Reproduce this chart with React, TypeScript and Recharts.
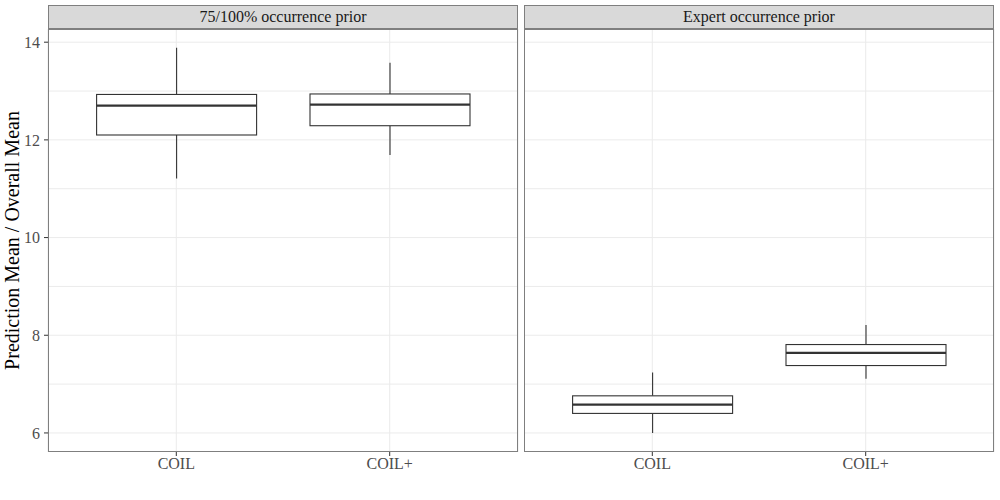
import React from 'react';
import { ComposedChart, Bar, XAxis, YAxis, CartesianGrid } from 'recharts';

const categories = ['COIL', 'COIL+'];
const facetTitles = ['75/100% occurrence prior', 'Expert occurrence prior'];
const yAxisTitle = 'Prediction Mean / Overall Mean';

const occMin = [11.21, 11.69];
const occQ1 = [12.1, 12.29];
const occMedian = [12.7, 12.72];
const occQ3 = [12.93, 12.94];
const occMax = [13.885, 13.58];

const expMin = [6.0, 7.11];
const expQ1 = [6.4, 7.38];
const expMedian = [6.58, 7.64];
const expQ3 = [6.76, 7.81];
const expMax = [7.24, 8.21];

const yTicks = [6, 8, 10, 12, 14];
const yGrid = [6, 7, 8, 9, 10, 11, 12, 13, 14];
const yDomain: [number, number] = [5.61, 14.27];

const FONT = '"Liberation Serif", "Times New Roman", serif';
const BORDER = '#7f7f7f';

function build(mins: number[], q1: number[], med: number[], q3: number[], max: number[]) {
  return categories.map((c, i) => ({
    category: c,
    min: mins[i],
    q1: q1[i],
    median: med[i],
    q3: q3[i],
    max: max[i],
  }));
}

const occData = build(occMin, occQ1, occMedian, occQ3, occMax);
const expData = build(expMin, expQ1, expMedian, expQ3, expMax);

const BoxShape = (props: any) => {
  const { x, y, width, height, payload } = props;
  if (payload == null) return null;
  const ppu = height / (payload.q3 - payload.q1);
  const toY = (v: number) => y + (payload.q3 - v) * ppu;
  const cx = x + width / 2;
  const stroke = '#333333';
  return (
    <g>
      <line x1={cx} x2={cx} y1={toY(payload.max)} y2={y} stroke={stroke} strokeWidth={1.1} />
      <line x1={cx} x2={cx} y1={y + height} y2={toY(payload.min)} stroke={stroke} strokeWidth={1.1} />
      <rect x={x} y={y} width={width} height={height} fill="#ffffff" stroke={stroke} strokeWidth={1.1} />
      <line x1={x} x2={x + width} y1={toY(payload.median)} y2={toY(payload.median)} stroke={stroke} strokeWidth={2.2} />
    </g>
  );
};

const tickStyle = { fill: '#4d4d4d', fontSize: 16, fontFamily: FONT };

function Panel(props: { data: any[]; showY: boolean; left: number; width: number; title: string }) {
  const { data, showY, left, width, title } = props;
  const yw = showY ? 48 : 0;
  const plotLeft = left + yw;
  const plotWidth = width - yw - 1;
  return (
    <>
      <div
        style={{
          position: 'absolute',
          left: plotLeft,
          top: 5,
          width: plotWidth,
          height: 24,
          boxSizing: 'border-box',
          background: '#d9d9d9',
          border: `1px solid ${BORDER}`,
          fontFamily: FONT,
          fontSize: 16,
          color: '#1a1a1a',
          textAlign: 'center',
          lineHeight: '22px',
        }}
      >
        {title}
      </div>
      <div style={{ position: 'absolute', left, top: 0 }}>
        <ComposedChart
          width={width}
          height={480}
          data={data}
          margin={{ top: 29, right: 1, bottom: 0, left: 0 }}
        >
          <CartesianGrid
            stroke="#ebebeb"
            strokeWidth={1}
            horizontalValues={yGrid}
          />
          <XAxis
            dataKey="category"
            height={28}
            padding={{ left: 21.6, right: 21.6 }}
            axisLine={false}
            tickSize={4}
            tickMargin={2}
            tickLine={{ stroke: '#333333' }}
            tick={tickStyle}
          />
          <YAxis
            hide={!showY}
            type="number"
            domain={yDomain}
            ticks={yTicks}
            allowDataOverflow
            width={48}
            axisLine={false}
            tickSize={4}
            tickMargin={4}
            tickLine={{ stroke: '#333333' }}
            tick={tickStyle}
            label={
              showY
                ? {
                    value: yAxisTitle,
                    angle: -90,
                    position: 'insideLeft',
                    offset: 12,
                    style: { textAnchor: 'middle', fontSize: 20, fontFamily: FONT, fill: '#000000' },
                  }
                : undefined
            }
          />
          <Bar
            dataKey={(d: any) => [d.q1, d.q3]}
            barSize={160}
            shape={BoxShape}
            isAnimationActive={false}
          />
        </ComposedChart>
      </div>
      <div
        style={{
          position: 'absolute',
          left: plotLeft,
          top: 29,
          width: plotWidth,
          height: 423,
          boxSizing: 'border-box',
          border: `1px solid ${BORDER}`,
          pointerEvents: 'none',
        }}
      />
    </>
  );
}

export default function App() {
  return (
    <div style={{ position: 'absolute', left: 0, top: 0, width: 1000, height: 500, background: '#ffffff' }}>
      <Panel data={occData} showY={true} left={0} width={519} title={facetTitles[0]} />
      <Panel data={expData} showY={false} left={524} width={471} title={facetTitles[1]} />
    </div>
  );
}
